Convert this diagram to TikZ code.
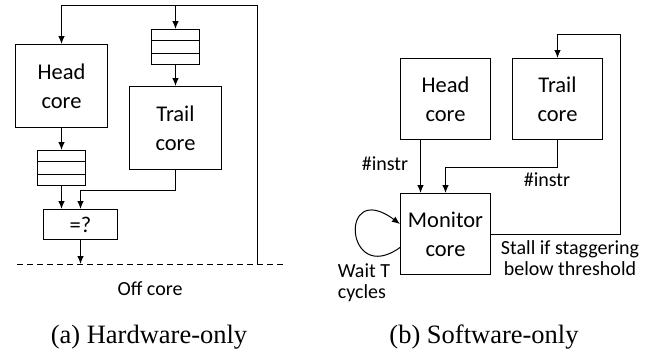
\documentclass[tikz,border=0pt]{standalone}
\usepackage{fontspec}
\setmainfont{Carlito}
\newfontfamily\capfont{Liberation Serif}
\usetikzlibrary{arrows.meta}

\begin{document}
\begin{tikzpicture}[x=1pt, y=-1pt, line width=1pt,
		core/.style={draw, rectangle, anchor=north west, align=center, font=\fontsize{22.5}{29}\selectfont},
		queue/.style={draw, rectangle, anchor=north west, minimum width=48pt, minimum height=35pt},
		lbl/.style={font=\fontsize{20}{21}\selectfont},
		captext/.style={font=\capfont\fontsize{26.5}{30}\selectfont},
		arrow/.style={-{Latex[length=8pt, width=6.5pt]}}]
		\useasboundingbox (0,0) rectangle (652,356);
		\node[core, minimum width=92pt, minimum height=83pt] (hw_head) at (15, 44) {Head\\core};
		\node[queue] (hw_head_q) at (37, 150) {};
		\node[core, minimum width=92pt, minimum height=83pt] (hw_trail) at (129, 86) {Trail\\core};
		\node[queue] (hw_trail_q) at (151, 29) {};
		\node[core, minimum width=74pt, minimum height=30pt] (hw_cmp) at (43, 209) {=?};
		\coordinate (hw_top) at (257, 5);
		\coordinate (hw_off) at (257, 264);
		\coordinate (hw_dl) at (17, 264);
		\coordinate (hw_dr) at (283, 264);
		\node[lbl] (hw_offcore) at (150, 289) {Off core};
		\draw ([yshift=-11.7pt]hw_head_q.north west) -- ([yshift=-11.7pt]hw_head_q.north east);
		\draw ([yshift=11.7pt]hw_head_q.south west) -- ([yshift=11.7pt]hw_head_q.south east);
		\draw ([yshift=-11.7pt]hw_trail_q.north west) -- ([yshift=-11.7pt]hw_trail_q.north east);
		\draw ([yshift=11.7pt]hw_trail_q.south west) -- ([yshift=11.7pt]hw_trail_q.south east);
		\draw[dash pattern=on 6pt off 4pt] (hw_dl) -- (hw_dr);
		\draw[arrow] (hw_off) -- (hw_top) -| (hw_head.north);
		\draw[arrow] (hw_trail_q.north |- hw_top) -- (hw_trail_q.north);
		\draw[arrow] (hw_trail_q) -- (hw_trail);
		\draw[arrow] (hw_head) -- (hw_head_q);
		\draw[arrow] (hw_head_q.south) -- (hw_head_q.south |- hw_cmp.north);
		\draw[arrow] (hw_trail.south) -- ++(0, 20) -| (hw_cmp.north);
		\draw[arrow] (hw_cmp.south) -- (hw_cmp.south |- hw_off);
		\node[core, minimum width=90pt, minimum height=81pt] (sw_head) at (400, 58) {Head\\core};
		\node[core, minimum width=90pt, minimum height=81pt] (sw_trail) at (512, 58) {Trail\\core};
		\node[core, minimum width=90pt, minimum height=81pt] (sw_mon) at (400, 193) {Monitor\\core};
		\coordinate (sw_stall) at (620, 34);
		\node[lbl] (sw_instr_h) at (385, 164) {\#instr};
		\node[lbl] (sw_instr_t) at (547, 180) {\#instr};
		\node[lbl, align=center] (sw_stall_lbl) at (570, 258) {Stall if staggering\\below threshold};
		\node[lbl, align=left, anchor=west] (sw_wait) at (334, 283) {Wait T\\cycles};
		\draw[arrow] ([xshift=-25pt]sw_head.south) -- ([xshift=-25pt]sw_mon.north);
		\draw[arrow] (sw_trail.south) -- ++(0, 27) -| (sw_mon.north);
		\draw[arrow] (sw_mon.east) -| (sw_stall) -| (sw_trail.north);
		\draw[arrow] ([yshift=-13.5pt]sw_mon.west) .. controls (345, 287) and (338, 178) .. ([yshift=10pt]sw_mon.west);
		\node[captext] (cap_a) at (149, 337) {(a) Hardware-only};
		\node[captext] (cap_b) at (484, 337) {(b) Software-only};
	\end{tikzpicture}
\end{document}
